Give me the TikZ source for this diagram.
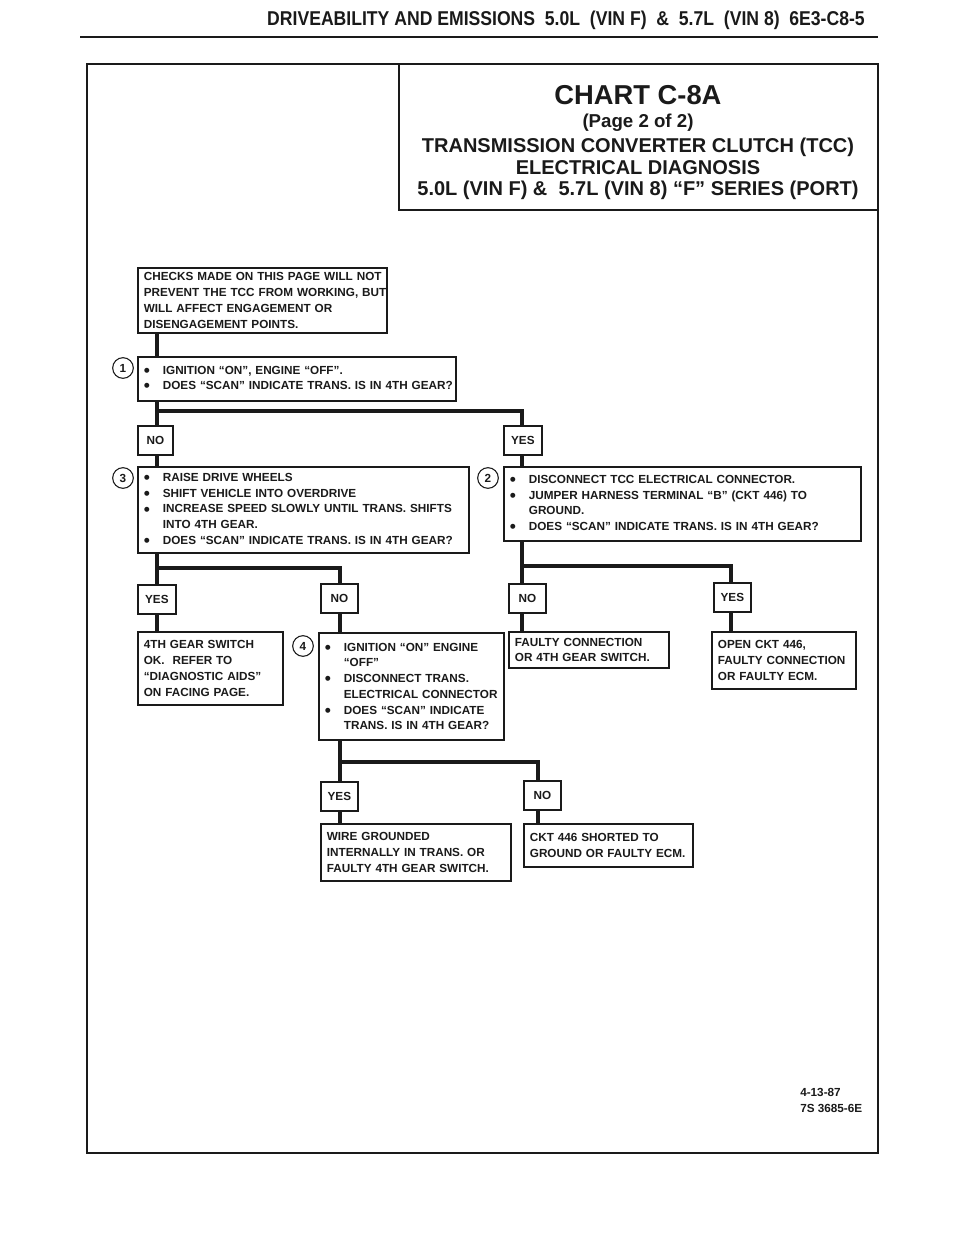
\documentclass[tikz,border=0pt]{standalone}
\usepackage{fontspec}
\setmainfont{Liberation Sans}
\definecolor{ink}{HTML}{1A1A1A}
\newcommand{\bigbul}{\raisebox{-1.6pt}{\fontsize{13}{13}\selectfont\textbullet}}
\newcommand{\blin}[1]{\mbox{\makebox[14.25pt][l]{\bigbul}#1}}
\newcommand{\clin}[1]{\mbox{\hspace*{14.25pt}#1}}
\newcommand{\plin}[1]{\mbox{#1}}
\begin{document}
\begin{tikzpicture}[x=0.75pt,y=-0.75pt,
  txt/.style={text=ink,font=\bfseries\fontsize{8.8}{11.8}\selectfont},
  bx/.style={txt, draw=ink, line width=1.3pt, anchor=north west, inner xsep=4.5pt, inner ysep=1pt, align=left},
  ans/.style={txt, draw=ink, line width=1.3pt, anchor=north west, inner sep=0pt, align=center, minimum height=21.75pt},
  num/.style={txt, draw=ink, circle, line width=0.8pt, minimum size=15.5pt, inner sep=0pt},
  conn/.style={draw=ink, line width=3pt},
  ttl/.style={text=ink, font=\bfseries\fontsize{#1}{#1}\selectfont, inner sep=0pt},
]
\useasboundingbox[fill=white] (0,0) rectangle (960,1235);

% page header
\node[ttl=15] (hdr) at (566,20) {\scalebox{0.88}[1]{DRIVEABILITY AND EMISSIONS\ \ 5.0L\ \ (VIN F)\ \ \&\ \ 5.7L\ \ (VIN 8)\ \ 6E3-C8-5}};
\draw[ink, line width=2.2pt] (80,37) -- (878,37);

% frame and title box
\draw[ink, line width=2pt] (87,64) rectangle (878,1153);
\draw[ink, line width=1.6pt] (399,64) -- (399,210) -- (878,210);
\node[ttl=20.5] (t1) at (638,95) {CHART C-8A};
\node[ttl=14] (t2) at (638,123) {(Page 2 of 2)};
\node[ttl=15] (t3) at (638,147) {TRANSMISSION CONVERTER CLUTCH (TCC)};
\node[ttl=15] (t4) at (638,168) {ELECTRICAL DIAGNOSIS};
\node[ttl=15] (t5) at (638,190) {5.0L (VIN F) \& \ 5.7L (VIN 8) “F” SERIES (PORT)};

% boxes
\node[bx, minimum width=186.75pt, minimum height=48.75pt, text width=177.75pt] (b0) at (137,267)
 {\plin{CHECKS MADE ON THIS PAGE WILL NOT}\\ \plin{PREVENT THE TCC FROM WORKING, BUT}\\ \plin{WILL AFFECT ENGAGEMENT OR}\\ \plin{DISENGAGEMENT POINTS.}};
\node[bx, minimum width=238.5pt, minimum height=33pt, text width=229.5pt] (s1) at (137,356)
 {\blin{IGNITION “ON”, ENGINE “OFF”.}\\ \blin{DOES “SCAN” INDICATE TRANS. IS IN 4TH GEAR?}};
\node[bx, minimum width=248.25pt, minimum height=64.5pt, text width=239.25pt] (s3) at (137,466)
 {\blin{RAISE DRIVE WHEELS}\\ \blin{SHIFT VEHICLE INTO OVERDRIVE}\\ \blin{INCREASE SPEED SLOWLY UNTIL TRANS. SHIFTS}\\ \clin{INTO 4TH GEAR.}\\ \blin{DOES “SCAN” INDICATE TRANS. IS IN 4TH GEAR?}};
\node[bx, minimum width=267.75pt, minimum height=55.5pt, text width=258.75pt] (s2) at (503,466)
 {\blin{DISCONNECT TCC ELECTRICAL CONNECTOR.}\\ \blin{JUMPER HARNESS TERMINAL “B” (CKT 446) TO}\\ \clin{GROUND.}\\ \blin{DOES “SCAN” INDICATE TRANS. IS IN 4TH GEAR?}};
\node[bx, minimum width=108.75pt, minimum height=54.75pt, text width=99.75pt] (r1) at (137,631)
 {\plin{4TH GEAR SWITCH}\\ \plin{OK.\ \ REFER TO}\\ \plin{“DIAGNOSTIC AIDS”}\\ \plin{ON FACING PAGE.}};
\node[bx, minimum width=138.75pt, minimum height=80.25pt, text width=129.75pt] (s4) at (318,632)
 {\blin{IGNITION “ON” ENGINE}\\ \clin{“OFF”}\\ \blin{DISCONNECT TRANS.}\\ \clin{ELECTRICAL CONNECTOR}\\ \blin{DOES “SCAN” INDICATE}\\ \clin{TRANS. IS IN 4TH GEAR?}};
\node[bx, minimum width=120pt, minimum height=27pt, text width=111pt] (r2) at (508,631)
 {\plin{FAULTY CONNECTION}\\ \plin{OR 4TH GEAR SWITCH.}};
\node[bx, minimum width=108pt, minimum height=42.75pt, text width=99pt] (r3) at (711,631)
 {\plin{OPEN CKT 446,}\\ \plin{FAULTY CONNECTION}\\ \plin{OR FAULTY ECM.}};
\node[bx, minimum width=142.5pt, minimum height=42.75pt, text width=133.5pt] (r4) at (320,823)
 {\plin{WIRE GROUNDED}\\ \plin{INTERNALLY IN TRANS. OR}\\ \plin{FAULTY 4TH GEAR SWITCH.}};
\node[bx, minimum width=126.75pt, minimum height=32.25pt, text width=117.75pt] (r5) at (523,823)
 {\plin{CKT 446 SHORTED TO}\\ \plin{GROUND OR FAULTY ECM.}};

% answer boxes
\node[ans, minimum width=26.25pt] (no1) at (137,425) {NO};
\node[ans, minimum width=28.5pt] (yes1) at (503,425) {YES};
\node[ans, minimum width=28.5pt] (yes3) at (137,584) {YES};
\node[ans, minimum width=27.75pt] (no3) at (320,583) {NO};
\node[ans, minimum width=27.75pt] (no2) at (508,583) {NO};
\node[ans, minimum width=27.75pt] (yes2) at (713,582) {YES};
\node[ans, minimum width=27.75pt] (yes4) at (320,781) {YES};
\node[ans, minimum width=27.75pt] (no4) at (523,780) {NO};

% step numbers
\node[num] (c1) at (123,368) {1};
\node[num] (c3) at (123,478) {3};
\node[num] (c2) at (488,478) {2};
\node[num] (c4) at (303,646) {4};

% connector columns and branch points
\coordinate (xa) at (157,0);
\coordinate (xb) at (522,0);
\coordinate (xc) at (340,0);
\coordinate (xd) at (731,0);
\coordinate (xe) at (538,0);
\coordinate (br1) at (157,411);
\coordinate (br3) at (157,568);
\coordinate (br2) at (522,566);
\coordinate (br4) at (340,762);

\draw[conn] (b0.south -| xa) -- (s1.north -| xa);
\draw[conn] (s1.south -| xa) -- (no1.north -| xa);
\draw[conn] (br1) -| (yes1.north -| xb);
\draw[conn] (no1.south -| xa) -- (s3.north -| xa);
\draw[conn] (yes1.south -| xb) -- (s2.north -| xb);
\draw[conn] (s3.south -| xa) -- (yes3.north -| xa);
\draw[conn] (br3) -| (no3.north -| xc);
\draw[conn] (yes3.south -| xa) -- (r1.north -| xa);
\draw[conn] (no3.south -| xc) -- (s4.north -| xc);
\draw[conn] (s2.south -| xb) -- (no2.north -| xb);
\draw[conn] (br2) -| (yes2.north -| xd);
\draw[conn] (no2.south -| xb) -- (r2.north -| xb);
\draw[conn] (yes2.south -| xd) -- (r3.north -| xd);
\draw[conn] (s4.south -| xc) -- (yes4.north -| xc);
\draw[conn] (br4) -| (no4.north -| xe);
\draw[conn] (yes4.south -| xc) -- (r4.north -| xc);
\draw[conn] (no4.south -| xe) -- (r5.north -| xe);

% date
\node[txt, anchor=north west, align=left, inner sep=0pt, font=\bfseries\fontsize{8.8}{12}\selectfont] (dt) at (800,1088) {4-13-87\\7S 3685-6E};
\end{tikzpicture}
\end{document}
